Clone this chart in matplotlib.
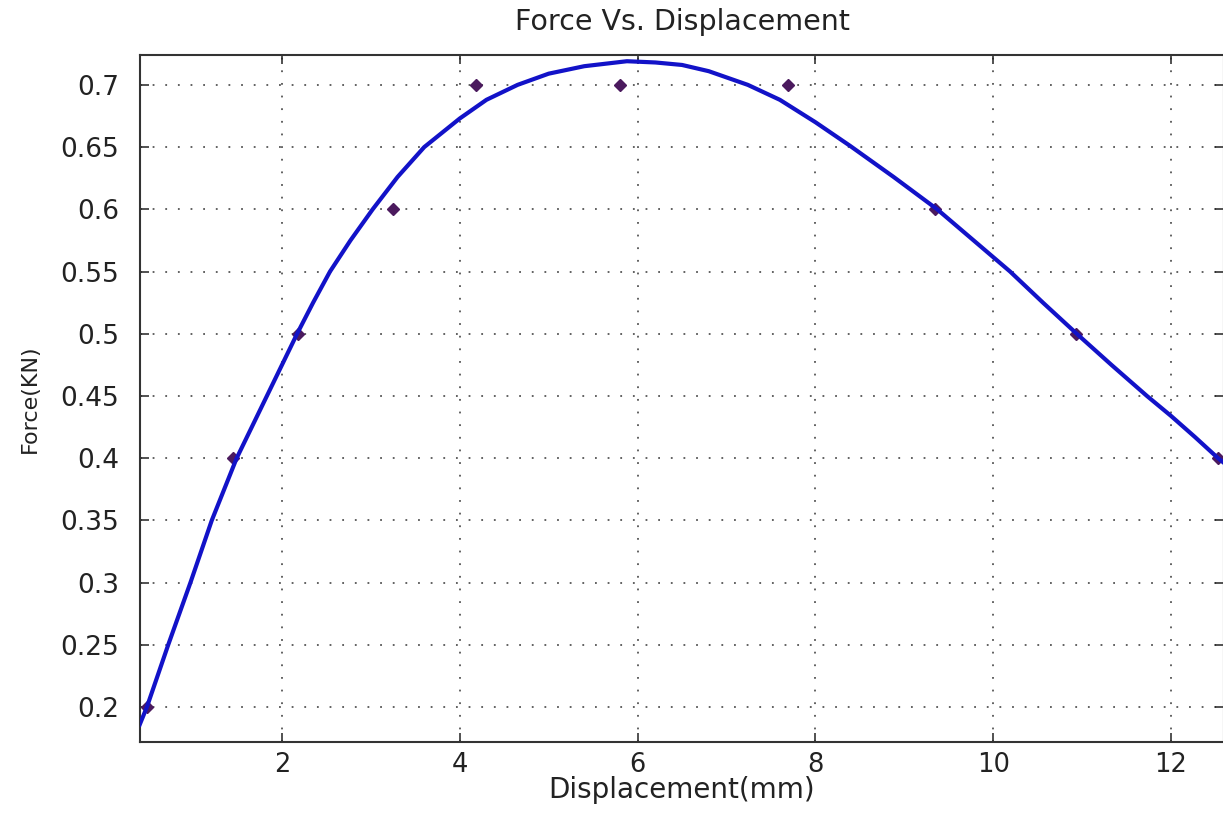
import matplotlib
matplotlib.use("Agg")
import matplotlib.pyplot as plt

# measured points (markers)
disp_pts = [0.48, 1.45, 2.18, 3.25, 4.18, 5.80, 7.69, 9.35, 10.93, 12.53]
force_pts = [0.20, 0.40, 0.50, 0.60, 0.70, 0.70, 0.70, 0.60, 0.50, 0.40]

# fitted curve
disp_curve = [0.40, 0.48, 0.60, 0.72, 0.85, 0.97, 1.09, 1.21, 1.35, 1.49, 1.66,
              1.83, 2.00, 2.17, 2.35, 2.54, 2.77, 3.02, 3.30, 3.60, 4.00, 4.30,
              4.65, 5.00, 5.40, 5.88, 6.20, 6.50, 6.80, 7.00, 7.24, 7.60, 8.00,
              8.39, 8.88, 9.37, 9.78, 10.19, 10.56, 10.94, 11.33, 11.73, 12.00,
              12.27, 12.53, 12.60]
force_curve = [0.186, 0.200, 0.225, 0.250, 0.276, 0.300, 0.325, 0.350, 0.375, 0.400, 0.425,
               0.450, 0.475, 0.500, 0.525, 0.550, 0.575, 0.600, 0.626, 0.650, 0.673, 0.688,
               0.700, 0.709, 0.715, 0.719, 0.718, 0.716, 0.711, 0.706, 0.700, 0.688, 0.670,
               0.651, 0.626, 0.600, 0.575, 0.550, 0.525, 0.500, 0.475, 0.450, 0.434,
               0.417, 0.400, 0.396]

xticks = [2, 4, 6, 8, 10, 12]
yticks = [0.2, 0.25, 0.3, 0.35, 0.4, 0.45, 0.5, 0.55, 0.6, 0.65, 0.7]
ytick_labels = ["0.2", "0.25", "0.3", "0.35", "0.4", "0.45", "0.5", "0.55", "0.6", "0.65", "0.7"]

fig = plt.figure(figsize=(12.23, 8.14), dpi=100)
ax = fig.add_axes([140 / 1223, 1 - 742 / 814, 1084 / 1223, 687 / 814])

ax.plot(disp_pts, force_pts, linestyle="none", marker="D", markersize=6,
        color="#4b1a5e", zorder=3)
ax.plot(disp_curve, force_curve, color="#1212c8", linewidth=3.0, zorder=4)

ax.set_xlim(0.403, 12.596)
ax.set_ylim(0.172, 0.724)
ax.set_xticks(xticks)
ax.set_yticks(yticks)
ax.set_yticklabels(ytick_labels)

ax.grid(True, color="#555555", linestyle=(0, (1, 6)), linewidth=1.3)
ax.tick_params(direction="in", length=6.5, width=1.1, top=True, right=True,
               labelsize=19, colors="#222222")
ax.tick_params(axis="y", pad=15)
ax.tick_params(axis="x", pad=7, labelsize=18.5)
for sp in ax.spines.values():
    sp.set_linewidth(1.5)
    sp.set_color("#333333")

ax.set_title("Force Vs. Displacement", fontsize=20.5, color="#222222", pad=18)
ax.set_xlabel("Displacement(mm)", fontsize=20, color="#222222", labelpad=-1)
ax.set_ylabel("Force(KN)", fontsize=16, color="#222222", labelpad=15)

fig.savefig("out.png", dpi=100)
